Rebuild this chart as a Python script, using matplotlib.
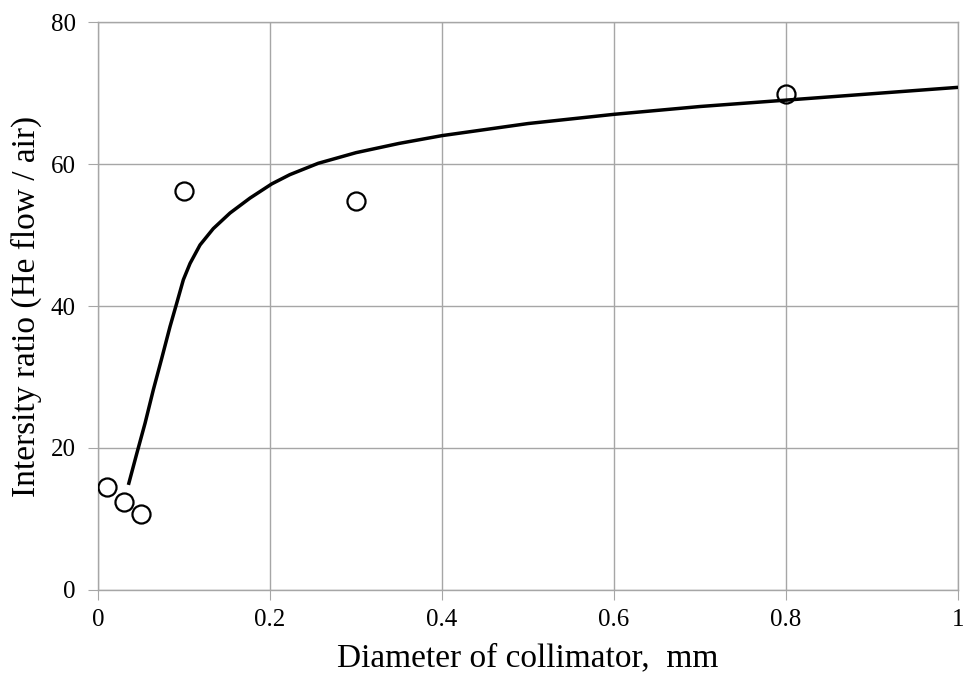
import numpy as np
import matplotlib
matplotlib.use("Agg")
import matplotlib.pyplot as plt

# measured points
diam = [0.01, 0.03, 0.05, 0.1, 0.3, 0.8]
ratio = [14.5, 12.4, 10.7, 56.2, 54.8, 69.8]

# trend curve
curve_x = [0.0353, 0.045, 0.0547, 0.0643, 0.074, 0.0837, 0.0915, 0.0992, 0.107,
           0.1186, 0.134, 0.1535, 0.1767, 0.202, 0.223, 0.256, 0.30, 0.35,
           0.40, 0.50, 0.60, 0.70, 0.80, 0.90, 1.00]
curve_y = [14.8, 19.2, 23.5, 28.2, 32.6, 37.1, 40.4, 43.7, 46.0,
           48.6, 50.9, 53.1, 55.2, 57.2, 58.5, 60.1, 61.6, 62.9,
           64.0, 65.7, 67.0, 68.1, 69.0, 69.9, 70.8]

plt.rcParams['font.family'] = ['Liberation Serif', 'DejaVu Serif']

fig = plt.figure(figsize=(9.64, 6.8), dpi=100)
ax = fig.add_axes([0.1017, 0.1324, 0.8921, 0.8352])

ax.plot(curve_x, curve_y, color='black', lw=2.5, solid_capstyle='butt',
        solid_joinstyle='round', zorder=3)
ax.plot(diam, ratio, 'o', ms=13, mfc='none', mec='black', mew=1.6, zorder=4)

ax.set_xlim(0, 1)
ax.set_ylim(0, 80)
ax.set_xticks([0, 0.2, 0.4, 0.6, 0.8, 1])
ax.set_xticklabels(['0', '0.2', '0.4', '0.6', '0.8', '1'])
ax.set_yticks([0, 20, 40, 60, 80])
ax.grid(True, color='#a6a6a6', lw=1)
ax.set_axisbelow(True)
for s in ax.spines.values():
    s.set_color('#a6a6a6')
    s.set_linewidth(1)
ax.tick_params(direction='out', length=7, color='#a6a6a6', labelsize=18)
ax.tick_params(axis='x', pad=7)
ax.tick_params(axis='y', pad=9)

ax.set_xlabel('Diameter of collimator,  mm', fontsize=24, labelpad=8)
ax.set_ylabel('Intersity ratio (He flow / air)', fontsize=24, labelpad=6)

fig.savefig('out.png', dpi=100)
